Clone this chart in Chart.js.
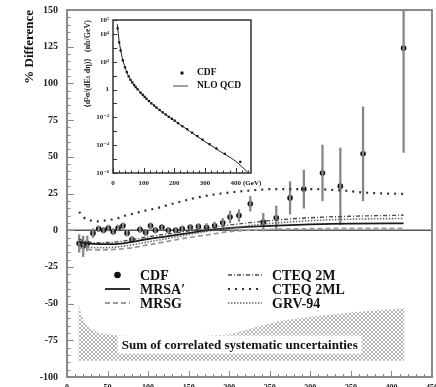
<!DOCTYPE html>
<html>
<head>
<meta charset="utf-8">
<script src="https://cdn.jsdelivr.net/npm/chart.js@4/dist/chart.umd.min.js"></script>
<style>
  html, body { margin: 0; padding: 0; background: #fff; }
  #wrap { position: relative; width: 436px; height: 387px; overflow: hidden; }
  #main { position: absolute; left: 0; top: 0; }
  #inset { position: absolute; left: 78px; top: 8px; }
</style>
</head>
<body>
<div id="wrap">
  <canvas id="main" width="436" height="387"></canvas>
  <canvas id="inset" width="192" height="192"></canvas>
</div>
<script>
// ---------- measured inclusive jet points (E_T in GeV) ----------
const etBins  = [15, 20, 25, 32, 39, 45, 51, 57, 63, 69, 74, 80, 90, 97, 103, 109, 117, 125, 134, 142,
                 152, 162, 172, 182, 192, 201, 212, 226, 242, 258, 275, 292, 315, 337, 365, 415];
// percent difference of CDF data from the NLO reference
const cdfDiff = [-9, -11, -9, -2, 1, 0, 1.5, -1, 1.5, 3, -2, -6.3, 0.5, -1.5, 3, 0, 2, 0, 0, 1,
                 2, 2.5, 2, 3, 5, 9, 10, 18, 5.5, 8.5, 22, 28, 39, 30, 52, 124];
const cdfErr  = [6, 7, 5, 3, 2, 2, 2, 2, 2, 2, 2, 2, 2, 2, 2, 2, 2, 2, 2, 2,
                 2, 2, 2.5, 2.5, 3, 4, 4, 5, 6, 8, 11, 13, 19, 26, 32, 71];

// ---------- alternative parton distributions, percent difference ----------
const curveEt   = [15, 25, 40, 60, 80, 100, 125, 150, 175, 200, 250, 300, 350, 415];
const mrsaPrime = [-8, -9, -9.5, -9.5, -8, -6, -4, -2, 0, 1.5, 3, 4, 4.5, 4.6];
const mrsg      = [-12, -13, -13.5, -13, -12, -10, -7.5, -5, -3, -1, 0.5, 1, 1.2, 1.2];
const cteq2m    = [-6, -8, -8.5, -8, -6.5, -4.5, -2.5, -0.5, 1.5, 3.5, 6.5, 8.5, 9.5, 10.2];
const grv94     = [-10, -11.5, -12, -11.5, -10, -8, -5.5, -3, -0.5, 1.5, 4.5, 6.5, 7.5, 8];
const cteq2mlEt = [15, 20, 30, 38, 46, 55, 63, 72, 80, 97, 111, 130, 144, 154, 190, 225, 257, 300, 340, 370, 415];
const cteq2ml   = [12.5, 9, 6.5, 6, 6.5, 7.3, 8.2, 10, 11, 13.4, 15, 18, 20, 21.5, 25, 27, 28, 28, 27, 25.5, 24.7];

// ---------- correlated systematic band ----------
const sysEt    = [14, 18, 22, 28, 40, 60, 100, 150, 200, 220, 240, 260, 300, 350, 416];
const sysUpper = [-50, -58, -63, -67, -70, -71.5, -72.5, -72.5, -71, -68, -65, -62, -59, -56, -53];
const sysLower = [-89, -89, -89, -89, -89, -89, -89, -89, -89, -89, -89, -89, -89, -89, -89];

// ---------- cross section (nb/GeV) for the inset ----------
const xsecCdf = [2.5e4, 2.5e3, 6.3e2, 1.26e2, 40, 17.8, 8.9, 5.0, 3.2, 2.1, 1.5, 1.05, 0.60, 0.42, 0.30, 0.22,
                 0.148, 0.102, 0.071, 0.050, 0.034, 0.023, 0.016, 0.011, 0.0079, 0.0058, 0.0038, 0.0023,
                 0.0014, 0.00079, 0.00045, 0.00025, 0.000117, 0.000059, 0.000024, 0.0000063];
const nloEt   = [14, 20, 30, 45, 60, 80, 100, 130, 160, 200, 250, 300, 350, 400, 440];
const nloXsec = [5e4, 3.2e3, 200, 17.8, 4, 1.05, 0.35, 0.083, 0.024, 0.0059, 1e-3, 1.8e-4, 3.5e-5, 7e-6, 1.1e-6];

// inset axis labels
const insetXLabels = [0, 100, 200, 300, 400];
const insetYTicks  = [1e-6, 1e-4, 1e-2, 1, 1e2, 1e4, 1e5];
const insetYLabels = ['10\u207B\u2076', '10\u207B\u2074', '10\u207B\u00B2', '1', '10\u00B2', '10\u2074', '10\u2075'];

const SERIF = '"Liberation Serif", "DejaVu Serif", serif';
const pts = (xs, ys) => xs.map((x, i) => ({ x, y: ys[i] }));

function hatchPattern(ctx) {
  const c = document.createElement('canvas');
  c.width = 4; c.height = 4;
  const g = c.getContext('2d');
  g.fillStyle = '#b6b6b6';
  [[0,0],[1,1],[2,2],[3,3],[3,0],[2,1],[1,2],[0,3]].forEach(([x, y]) => g.fillRect(x, y, 1, 1));
  return ctx.createPattern(c, 'repeat');
}

// frame, inward tick marks and optional zero line
const frameTicks = {
  id: 'frameTicks',
  beforeDatasetsDraw(chart, args, o) {
    if (!o.zeroLine) return;
    const { ctx, chartArea: a } = chart;
    const y0 = chart.scales.y.getPixelForValue(0);
    ctx.save();
    ctx.strokeStyle = '#555'; ctx.lineWidth = 1.5;
    ctx.beginPath(); ctx.moveTo(a.left, y0); ctx.lineTo(a.right, y0); ctx.stroke();
    ctx.restore();
  },
  afterDraw(chart, args, o) {
    const { ctx, chartArea: a } = chart;
    const xs = chart.scales.x, ys = chart.scales.y;
    ctx.save();
    ctx.strokeStyle = o.color;
    ctx.lineWidth = o.tickWidth;
    ctx.beginPath();
    for (let v = xs.min, i = 0; v <= xs.max + 1e-9; v += o.xStep, i++) {
      const px = Math.round(xs.getPixelForValue(v)) + 0.5;
      const len = (i % o.xEvery === 0) ? o.xMajor : o.xMinor;
      ctx.moveTo(px, a.bottom); ctx.lineTo(px, a.bottom - len);
    }
    if (o.yValues) {
      o.yValues.forEach(v => {
        const py = Math.round(ys.getPixelForValue(v)) + 0.5;
        ctx.moveTo(a.left, py); ctx.lineTo(a.left + o.yMajor, py);
      });
    } else {
      for (let v = ys.min, i = 0; v <= ys.max + 1e-9; v += o.yStep, i++) {
        const py = Math.round(ys.getPixelForValue(v)) + 0.5;
        const len = (i % o.yEvery === 0) ? o.yMajor : o.yMinor;
        ctx.moveTo(a.left, py); ctx.lineTo(a.left + len, py);
      }
    }
    ctx.stroke();
    ctx.lineWidth = o.frameWidth;
    ctx.strokeRect(a.left, a.top, a.right - a.left, a.bottom - a.top);
    ctx.restore();
  }
};

// legend rows and the label on the systematic band
const mainLegend = {
  id: 'mainLegend',
  afterDatasetsDraw(chart, args, o) {
    const { ctx } = chart;
    ctx.save();
    ctx.font = 'bold 14px ' + SERIF;
    ctx.textBaseline = 'middle';
    ctx.fillStyle = '#111';
    chart.data.datasets.forEach(ds => {
      const slot = o.slots[ds.label];
      if (!slot) return;
      const col = o.columns[slot[0]];
      const y = o.rows[slot[1]];
      if (ds.showLine === false) {
        ctx.beginPath();
        ctx.arc((col.s0 + col.s1) / 2, y, 3.3, 0, Math.PI * 2);
        ctx.fillStyle = '#111'; ctx.fill();
      } else {
        ctx.strokeStyle = ds.borderColor;
        ctx.lineWidth = ds.borderWidth;
        ctx.setLineDash(ds.borderDash || []);
        ctx.beginPath(); ctx.moveTo(col.s0, y); ctx.lineTo(col.s1, y); ctx.stroke();
        ctx.setLineDash([]);
      }
      ctx.fillStyle = '#111';
      ctx.fillText(ds.label, col.t, y + 1);
    });
    // band caption on a white box
    const xs = chart.scales.x, ys = chart.scales.y;
    const cx = xs.getPixelForValue(o.caption.x), cy = ys.getPixelForValue(o.caption.y);
    ctx.font = 'bold 13px ' + SERIF;
    const w = ctx.measureText(o.caption.text).width;
    ctx.fillStyle = '#fff';
    ctx.fillRect(cx - w / 2 - 4, cy - 9, w + 8, 18);
    ctx.fillStyle = '#111';
    ctx.textAlign = 'center';
    ctx.fillText(o.caption.text, cx, cy + 1);
    ctx.restore();
  }
};

const mainCtx = document.getElementById('main').getContext('2d');
new Chart(mainCtx, {
  type: 'line',
  data: {
    datasets: [
      { label: 'sys', data: pts(sysEt, sysUpper), fill: '+1', backgroundColor: hatchPattern(mainCtx),
        borderWidth: 0, pointRadius: 0 },
      { label: 'sysBase', data: pts(sysEt, sysLower), borderWidth: 0, pointRadius: 0, fill: false },
      { label: 'MRSG', data: pts(curveEt, mrsg), borderColor: '#9a9a9a', borderDash: [5, 3], borderWidth: 1.8,
        pointRadius: 0, cubicInterpolationMode: 'monotone' },
      { label: 'GRV-94', data: pts(curveEt, grv94), borderColor: '#6a6a6a', borderDash: [1.5, 1.5], borderWidth: 1.6,
        pointRadius: 0, cubicInterpolationMode: 'monotone' },
      { label: 'MRSA\u2032', data: pts(curveEt, mrsaPrime), borderColor: '#1a1a1a', borderWidth: 1.8,
        pointRadius: 0, cubicInterpolationMode: 'monotone' },
      { label: 'CTEQ 2M', data: pts(curveEt, cteq2m), borderColor: '#4a4a4a', borderDash: [4, 2, 1, 2], borderWidth: 1.4,
        pointRadius: 0, cubicInterpolationMode: 'monotone' },
      { label: 'CTEQ 2ML', data: pts(cteq2mlEt, cteq2ml), borderColor: '#333', borderDash: [2, 5], borderWidth: 2.2,
        pointRadius: 0, cubicInterpolationMode: 'monotone' },
      { type: 'bar', label: 'CDF errors', clip: 0, barThickness: 1.6, backgroundColor: '#858585',
        data: etBins.map((x, i) => ({ x, y: [cdfDiff[i] - cdfErr[i], cdfDiff[i] + cdfErr[i]] })) },
      { label: 'CDF', data: pts(etBins, cdfDiff), showLine: false, pointRadius: 2.8,
        pointBackgroundColor: '#111', pointBorderWidth: 0 }
    ]
  },
  options: {
    responsive: false, animation: false, devicePixelRatio: 1, events: [],
    layout: { padding: { top: 10, right: 2, left: 0, bottom: 0 } },
    scales: {
      x: {
        type: 'linear', min: 0, max: 450, offset: false,
        grid: { display: false, drawTicks: false }, border: { display: false },
        ticks: { stepSize: 50, padding: 6, color: '#222', font: { family: SERIF, size: 8, weight: 'bold' },
                 maxRotation: 0, autoSkip: false },
        afterFit(s) { s.height = 10; s.paddingLeft = 0; s.paddingRight = 0; }
      },
      y: {
        min: -100, max: 150,
        grid: { display: false, drawTicks: false }, border: { display: false },
        ticks: { stepSize: 25, padding: 9, color: '#222', font: { family: SERIF, size: 10, weight: 'bold' } },
        title: { display: true, text: '% Difference', align: 'end', color: '#111',
                 font: { family: SERIF, size: 13, weight: 'bold' }, padding: { top: 22, bottom: 0 } },
        afterFit(s) { s.width = 67; s.paddingTop = 0; s.paddingBottom = 0; }
      }
    },
    plugins: {
      legend: { display: false }, tooltip: { enabled: false },
      frameTicks: { color: '#8a8a8a', tickWidth: 1, frameWidth: 2, zeroLine: true,
                    xStep: 10, xEvery: 5, xMajor: 6, xMinor: 3,
                    yStep: 5, yEvery: 5, yMajor: 7, yMinor: 3.5 },
      mainLegend: {
        slots: { 'CDF': [0, 0], 'MRSA\u2032': [0, 1], 'MRSG': [0, 2],
                 'CTEQ 2M': [1, 0], 'CTEQ 2ML': [1, 1], 'GRV-94': [1, 2] },
        columns: [{ s0: 105, s1: 130, t: 140 }, { s0: 228, s1: 262, t: 272 }],
        rows: [275, 289, 303],
        caption: { x: 213, y: -78, text: 'Sum of correlated systematic uncertainties' }
      }
    }
  },
  plugins: [frameTicks, mainLegend]
});

// ---------- inset: cross section on a log scale ----------
const insetLegend = {
  id: 'insetLegend',
  beforeDraw(chart) {
    const { ctx, chartArea: a } = chart;
    ctx.save(); ctx.fillStyle = '#fff';
    ctx.fillRect(a.left, a.top, a.right - a.left, a.bottom - a.top);
    ctx.restore();
  },
  afterDraw(chart, args, o) {
    const { ctx, chartArea: a } = chart;
    ctx.save();
    ctx.font = 'bold 9.5px ' + SERIF;
    ctx.textBaseline = 'middle';
    ctx.fillStyle = '#111';
    ctx.fillRect(o.mx - 1.5, o.y0 - 1.5, 3, 3);
    ctx.fillText(chart.data.datasets[1].label, o.tx, o.y0);
    ctx.strokeStyle = '#444'; ctx.lineWidth = 1;
    ctx.beginPath(); ctx.moveTo(o.l0, o.y1); ctx.lineTo(o.l1, o.y1); ctx.stroke();
    ctx.fillText(chart.data.datasets[0].label, o.tx, o.y1);
    // unit after the last x label
    ctx.font = 'bold 7px ' + SERIF;
    ctx.fillText('(GeV)', a.right - 8, a.bottom + 10.5);
    ctx.restore();
  }
};

new Chart(document.getElementById('inset'), {
  type: 'line',
  data: {
    datasets: [
      { label: 'NLO QCD', data: pts(nloEt, nloXsec), borderColor: '#222', borderWidth: 1,
        pointRadius: 0, cubicInterpolationMode: 'monotone' },
      { label: 'CDF', data: pts(etBins, xsecCdf), showLine: false, pointStyle: 'rect', pointRadius: 1.6,
        pointBackgroundColor: '#111', pointBorderWidth: 0 }
    ]
  },
  options: {
    responsive: false, animation: false, devicePixelRatio: 1, events: [],
    layout: { padding: { top: 12, right: 19, left: 0, bottom: 0 } },
    scales: {
      x: {
        type: 'linear', min: 0, max: 450,
        grid: { display: false, drawTicks: false }, border: { display: false },
        ticks: { stepSize: 100, padding: 6, color: '#222', maxRotation: 0, autoSkip: false, includeBounds: false,
                 font: { family: SERIF, size: 7, weight: 'bold' },
                 callback: (v) => insetXLabels.includes(v) ? String(v) : '' },
        afterFit(s) { s.height = 27; s.paddingLeft = 0; s.paddingRight = 0; }
      },
      y: {
        type: 'logarithmic', min: 1e-6, max: 1e5,
        grid: { display: false, drawTicks: false }, border: { display: false },
        afterBuildTicks(s) { s.ticks = insetYTicks.map(v => ({ value: v })); },
        ticks: { padding: 4, color: '#222', autoSkip: false, font: { family: SERIF, size: 7, weight: 'bold' },
                 callback: (v) => insetYLabels[insetYTicks.indexOf(v)] ?? '' },
        title: { display: true, align: 'end', color: '#222',
                 text: '\u27E8d\u00B2\u03C3/(dE\u209C d\u03B7)\u27E9   (nb/GeV)',
                 font: { family: SERIF, size: 8, weight: 'bold' }, padding: { top: 5, bottom: 0 } },
        afterFit(s) { s.width = 35; s.paddingTop = 0; s.paddingBottom = 0; }
      }
    },
    plugins: {
      legend: { display: false }, tooltip: { enabled: false },
      frameTicks: { color: '#333', tickWidth: 1, frameWidth: 1.5,
                    xStep: 20, xEvery: 5, xMajor: 5, xMinor: 2.5,
                    yValues: [1e-6, 1e-5, 1e-4, 1e-3, 1e-2, 1e-1, 1, 10, 100, 1e3, 1e4, 1e5], yMajor: 4 },
      insetLegend: { mx: 104, tx: 119, y0: 65, y1: 78, l0: 95, l1: 110 }
    }
  },
  plugins: [frameTicks, insetLegend]
});
</script>
</body>
</html>
